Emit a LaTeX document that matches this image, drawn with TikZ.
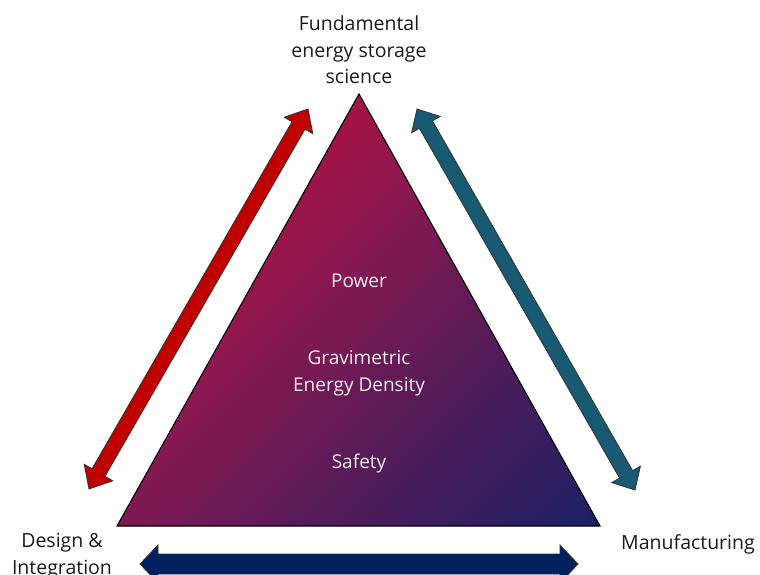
\documentclass[tikz,border=0pt]{standalone}
\usepackage{fontspec}
\setmainfont{Open Sans}
\usetikzlibrary{calc}

\definecolor{apexred}{HTML}{B01038}
\definecolor{lowmagenta}{HTML}{8E1850}
\definecolor{midplum}{HTML}{6A1A55}
\definecolor{deepnavy}{HTML}{1E2065}
\definecolor{arrowred}{HTML}{C00000}
\definecolor{arrowteal}{HTML}{175A72}
\definecolor{arrownavy}{HTML}{002060}
\definecolor{labelgray}{HTML}{1A1A1A}
\definecolor{innertext}{HTML}{F4ECF2}

% diagonal colour ramp for the triangle (used with shading angle=-45)
\pgfdeclarehorizontalshading{triangleramp}{100bp}{%
  color(0bp)=(apexred); color(27bp)=(apexred); color(43bp)=(lowmagenta);
  color(55bp)=(midplum); color(84bp)=(deepnavy); color(100bp)=(deepnavy)}

\tikzset{
  % double-headed block arrow: #1 head length, #2 head half-width, #3 shaft half-width
  blockarrow/.style n args={3}{
    draw=black!80, line width=0.8pt, line join=miter,
    to path={
      -- ($(\tikztostart)!#1!(\tikztotarget)!#2!90:(\tikztotarget)$)
      -- ($(\tikztostart)!#1!(\tikztotarget)!#3!90:(\tikztotarget)$)
      -- ($(\tikztotarget)!#1!(\tikztostart)!#3!-90:(\tikztostart)$)
      -- ($(\tikztotarget)!#1!(\tikztostart)!#2!-90:(\tikztostart)$)
      -- (\tikztotarget)
      -- ($(\tikztotarget)!#1!(\tikztostart)!#2!90:(\tikztostart)$)
      -- ($(\tikztotarget)!#1!(\tikztostart)!#3!90:(\tikztostart)$)
      -- ($(\tikztostart)!#1!(\tikztotarget)!#3!-90:(\tikztotarget)$)
      -- ($(\tikztostart)!#1!(\tikztotarget)!#2!-90:(\tikztotarget)$)
      -- cycle
    }
  },
  outerlabel/.style={align=center, text=labelgray,
    font=\fontsize{19.5}{26.5}\selectfont},
  innerlabel/.style={align=center, text=innertext,
    font=\fontsize{19}{27}\selectfont},
}

\begin{document}
\begin{tikzpicture}[x=1pt, y=-1pt]
  \useasboundingbox (0,0) rectangle (760,575);

  % triangle corners
  \coordinate (apex) at (359,94);
  \coordinate (left) at (117,526);
  \coordinate (right) at (600,526);

  % gradient-filled triangle
  \shade[shading=triangleramp, shading angle=-45]
    (apex) -- (right) -- (left) -- cycle;
  \draw[black, line width=1.1pt, line join=miter] (apex) -- (right) -- (left) -- cycle;

  % texts inside the triangle
  \node[innerlabel] (power) at (359,281) {Power};
  \node[innerlabel] (grav) at (359,373) {Gravimetric\\Energy Density};
  \node[innerlabel] (safety) at (359,464) {Safety};

  % corner labels
  \node[outerlabel] (science) at (359,50) {Fundamental\\energy storage\\science};
  \node[outerlabel] (design) at (62,556) {Design \&\\Integration};
  \node[outerlabel] (manuf) at (688,544) {Manufacturing};

  % arrow end points
  \coordinate (redlow) at (89,489);
  \coordinate (redhigh) at (308,109);
  \coordinate (teallow) at (635,490);
  \coordinate (tealhigh) at (417,109);
  \coordinate (navyleft) at (140,564);
  \coordinate (navyright) at (578,564);

  % double-headed block arrows along the three sides
  \draw[fill=arrowred, blockarrow={19pt}{16.5pt}{7.5pt}] (redlow) to (redhigh);
  \draw[fill=arrowteal, blockarrow={18pt}{16.5pt}{7.5pt}] (teallow) to (tealhigh);
  \draw[fill=arrownavy, blockarrow={18pt}{19pt}{10pt}] (navyleft) to (navyright);
\end{tikzpicture}
\end{document}
